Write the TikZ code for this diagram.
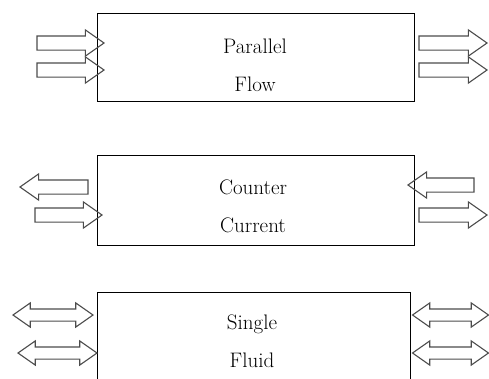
\documentclass[tikz,border=0pt]{standalone}
\usetikzlibrary{shapes.arrows}
\begin{document}
\begin{tikzpicture}[x=1pt,y=-1pt,
  box/.style={draw=black,line width=0.9pt,rectangle,inner sep=0pt},
  lbl/.style={align=center,font=\rmfamily\fontsize{21}{38}\selectfont,inner sep=0pt},
  sarrow/.style={draw=black!70,line width=1.1pt,single arrow,inner xsep=0pt,inner ysep=6.5pt,
    single arrow head extend=6pt,single arrow tip angle=70,minimum height=#1},
  darrow/.style={draw=black!70,line width=1.1pt,double arrow,inner xsep=0pt,inner ysep=5.5pt,
    double arrow head extend=6pt,double arrow tip angle=70,minimum height=#1}]
\useasboundingbox (0,0) rectangle (489,378);
\clip (0,0) rectangle (489,378);
% Parallel flow
\node[box,minimum width=317pt,minimum height=88pt] (b1) at (255.5,57) {};
\node[lbl] (t1) at (255,65) {Parallel\\Flow};
\node[sarrow=67pt] (a11) at (65.5,43) {};
\node[sarrow=67pt] (a12) at (65.5,70) {};
\node[sarrow=68pt] (a13) at (448,43) {};
\node[sarrow=68pt] (a14) at (448,70) {};
% Counter current
\node[box,minimum width=317pt,minimum height=90pt] (b2) at (255.5,200) {};
\node[lbl] (t2) at (253,206) {Counter\\Current};
\node[sarrow=68pt,shape border rotate=180] (a21) at (59,187) {};
\node[sarrow=67pt] (a22) at (63.5,215) {};
\node[sarrow=66pt,shape border rotate=180] (a23) at (446,185) {};
\node[sarrow=68pt] (a24) at (448,215) {};
% Single fluid
\node[box,minimum width=313pt,minimum height=128pt] (b3) at (253.5,356) {};
\node[lbl] (t3) at (252,341) {Single\\Fluid};
\node[darrow=80pt] (a31) at (53,315) {};
\node[darrow=79pt] (a32) at (57.5,353) {};
\node[darrow=76pt] (a33) at (450.5,315) {};
\node[darrow=76pt] (a34) at (450.5,353) {};
\end{tikzpicture}
\end{document}
